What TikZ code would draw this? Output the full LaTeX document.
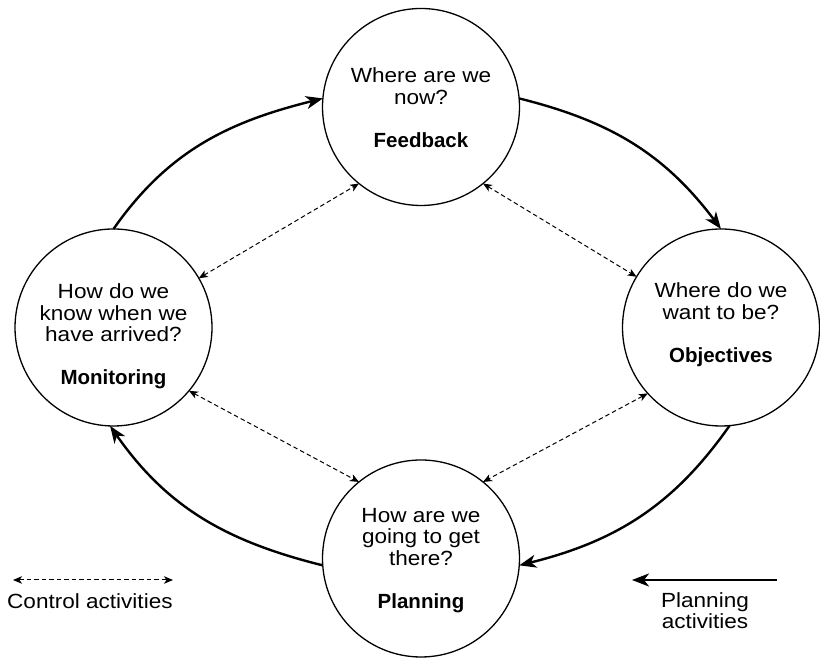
\documentclass[tikz,border=0pt]{standalone}
\usepackage{fontspec}
\setmainfont{Liberation Sans}[FakeStretch=1.1]
\newfontfamily\bfam{Liberation Sans}
\usetikzlibrary{arrows.meta}
\begin{document}
\begin{tikzpicture}[x=1pt,y=1pt,
  stage/.style={circle, draw, line width=1.3pt, minimum size=197pt, inner sep=0pt, outer sep=0pt},
  qtext/.style={align=center, inner sep=0pt, font=\fontsize{20.5}{21.5}\selectfont},
  plan/.style={line width=2.4pt, -{Stealth[length=17pt,width=13pt,inset=5pt]}},
  ctrl/.style={line width=1pt, dash pattern=on 4.5pt off 3pt, {Stealth[length=9pt,width=7.5pt,inset=2.5pt]}-{Stealth[length=9pt,width=7.5pt,inset=2.5pt]}},
  lab/.style={font=\bfam\bfseries}
]
\useasboundingbox (0,0) rectangle (820,660);
\node[stage] (T) at (421,553) {};
\node[stage] (L) at (113.5,332.5) {};
\node[stage] (R) at (721,332.5) {};
\node[stage] (B) at (421,101.5) {};
\node[qtext] (Tt) at (421,552.5) {Where are we\\now?\\[21.5pt]{\bfam\bfseries Feedback}};
\node[qtext] (Lt) at (113.5,323.3) {How do we\\know when we\\have arrived?\\[21.5pt]{\bfam\bfseries Monitoring}};
\node[qtext] (Rt) at (721,335.5) {Where do we\\want to be?\\[21.5pt]{\bfam\bfseries Objectives}};
\node[qtext] (Bt) at (421,99.4) {How are we\\going to get\\there?\\[21.5pt]{\bfam\bfseries Planning}};
% planning loop
\draw[plan] (L.90) to[out=55,in=194] (T.175);
\draw[plan] (T.5) to[out=-14,in=127] (R.90);
\draw[plan] (R.-85) to[out=235,in=14] (B.-4);
\draw[plan] (B.184) to[out=166,in=-55] (L.-92);
% control
\draw[ctrl] (L.30) -- (T.231);
\draw[ctrl] (T.309) -- (R.149);
\draw[ctrl] (L.-40) -- (B.129);
\draw[ctrl] (R.-138) -- (B.51);
% legend
\coordinate (ca) at (13,80);
\coordinate (cb) at (173,80);
\draw[ctrl] (ca) -- (cb);
\node[anchor=base west, inner sep=0pt, font=\fontsize{20.5}{21.5}\selectfont] (ct) at (7,51) {Control activities};
\coordinate (pa) at (777,80);
\coordinate (pb) at (632,80);
\draw[plan] (pa) -- (pb);
\node[qtext] (pt) at (705,49.5) {Planning\\activities};
\end{tikzpicture}
\end{document}
